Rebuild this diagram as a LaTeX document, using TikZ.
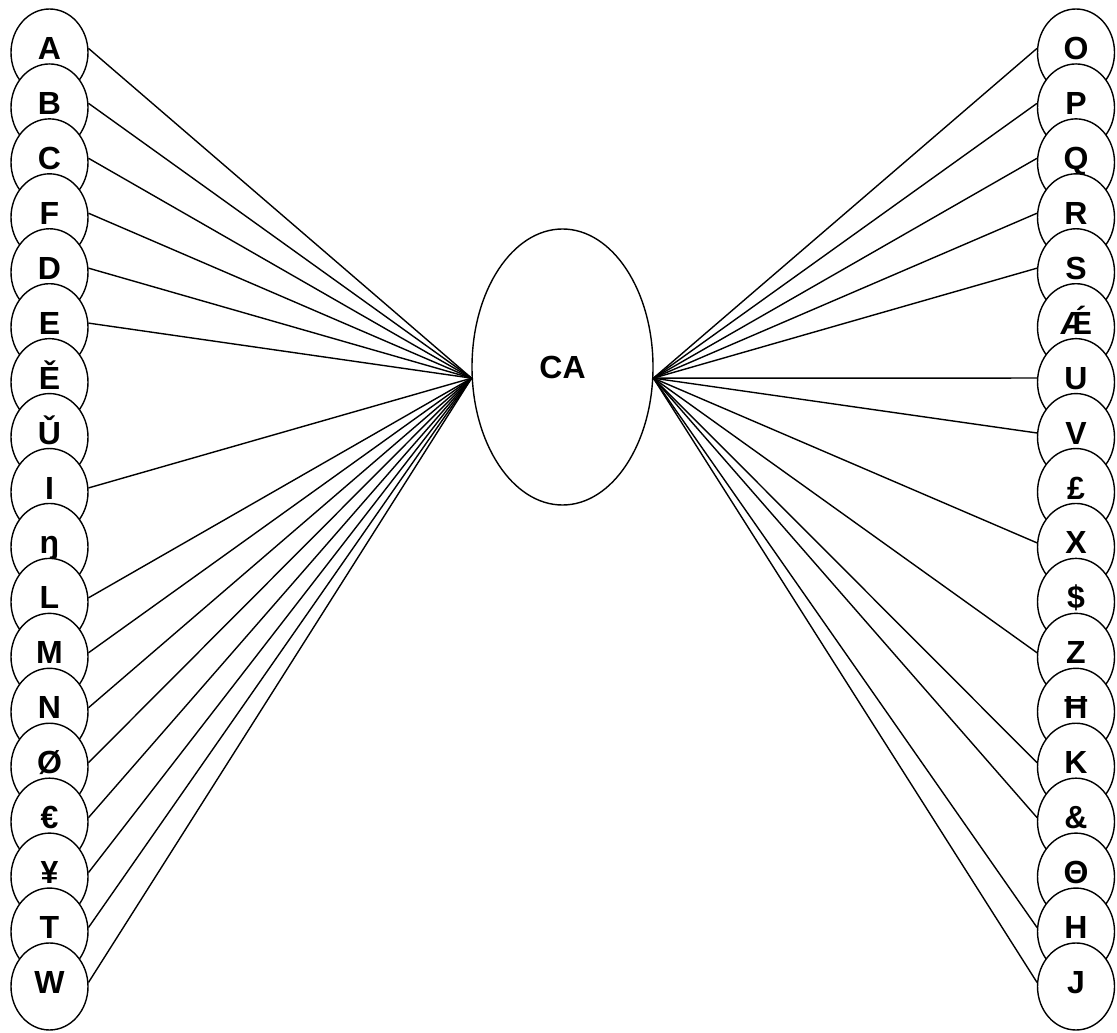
\documentclass[tikz,border=0pt]{standalone}
\usepackage{fontspec}
\setmainfont{Liberation Sans}
\usetikzlibrary{shapes.geometric}

\begin{document}
\begin{tikzpicture}[x=0.5pt,y=-0.5pt,
  letter/.style={ellipse,draw,fill=white,line width=0.7pt,inner sep=0pt,minimum width=38.5pt,minimum height=43.5pt,
    font=\fontsize{16pt}{16pt}\selectfont\bfseries,text height=11pt,text depth=4pt},
  link/.style={line width=0.7pt}]
  \useasboundingbox (0,0) rectangle (1117,1032);

  \node[ellipse,draw,line width=0.7pt,inner sep=0pt,minimum width=90.5pt,minimum height=138pt,
    font=\fontsize{16pt}{16pt}\selectfont\bfseries] (CA) at (562.5,367) {CA};

  \foreach \t [count=\i] in {A,B,C,F,D,E,Ě,Ǔ,I,ŋ,L,M,N,Ø,€,¥,T,W}{
    \node[letter] (l\i) at (49.5,{52.5+54.94*(\i-1)}) {\t};
  }
  \foreach \t [count=\i] in {O,P,Q,R,S,Ǽ,U,V,£,X,\$,Z,Ħ,K,\&,Θ,H,J}{
    \node[letter] (r\i) at (1076,{52.5+54.94*(\i-1)}) {\t};
  }

  \foreach \i in {1,2,3,4,5,6,9,11,12,13,14,15,16,17,18}{
    \draw[link] (l\i.6) -- (CA.187);
  }
  \foreach \i in {1,2,3,4,5,7,8,10,12,14,15,17,18}{
    \draw[link] (r\i.174) -- (CA.-7);
  }
\end{tikzpicture}
\end{document}
